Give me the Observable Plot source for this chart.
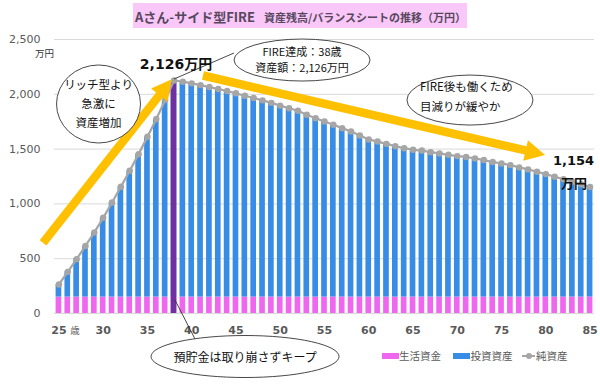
<!DOCTYPE html>
<html><head><meta charset="utf-8">
<script src="https://cdn.jsdelivr.net/npm/d3@7"></script>
<script src="https://cdn.jsdelivr.net/npm/@observablehq/plot@0.6"></script>
<style>
body{margin:0;background:#fff;}
#wrap{position:relative;width:600px;height:385px;overflow:hidden;font-family:"Noto Sans CJK JP",sans-serif;}
#title{position:absolute;left:133px;top:3px;width:334px;height:25px;background:#fac8f8;color:#56475e;font-weight:bold;line-height:25px;white-space:nowrap;}
#title .t1{font-size:13px;margin-left:2px;}
#title .t2{font-size:11px;margin-left:9px;}
#chart{position:absolute;left:0;top:30px;}
#legend{position:absolute;left:0;top:0;width:600px;height:385px;pointer-events:none;font-size:10.5px;color:#595959;}
#legend .sw{position:absolute;top:353px;width:16.5px;height:6px;}
#legend .lb{position:absolute;top:349px;line-height:14px;white-space:nowrap;}
g[aria-label^="x-axis"] text{font-weight:bold;}
</style></head>
<body><div id="wrap">
<div id="title"><span class="t1">Aさん-サイド型FIRE</span><span class="t2">資産残高/バランスシートの推移（万円）</span></div>
<div id="chart"></div>
<div id="legend">
  <div class="sw" style="left:382px;background:#ef67ef"></div><div class="lb" style="left:399px">生活資金</div>
  <div class="sw" style="left:453px;background:#378ce6"></div><div class="lb" style="left:470.5px">投資資産</div>
  <div style="position:absolute;left:522px;top:355px;width:13px;height:2px;background:#a6a6a6"></div>
  <div style="position:absolute;left:525.5px;top:353px;width:6px;height:6px;border-radius:3px;background:#a6a6a6"></div>
  <div class="lb" style="left:536px">純資産</div>
</div>
</div>
<script>
// ---- data ----
const ages = [25,26,27,28,29,30,31,32,33,34,35,36,37,38,39,40,41,42,43,44,45,46,47,48,49,50,51,52,53,54,55,56,57,58,59,60,61,62,63,64,65,66,67,68,69,70,71,72,73,74,75,76,77,78,79,80,81,82,83,84,85];
const netAssets = [265,380,496,617,740,873,1013,1156,1302,1454,1612,1774,1947,2126,2115,2100,2084,2066,2048,2030,2009,1987,1966,1945,1922,1897,1873,1850,1813,1782,1752,1722,1691,1661,1624,1588,1569,1548,1527,1508,1494,1487,1472,1460,1448,1436,1428,1415,1400,1382,1369,1354,1333,1315,1293,1272,1248,1226,1201,1180,1154];
const livingFunds = [150,150,150,150,150,150,150,150,150,150,150,150,150,150,150,150,150,150,150,150,150,150,150,150,150,150,150,150,150,150,150,150,150,150,150,150,150,150,150,150,150,150,150,150,150,150,150,150,150,150,150,150,150,150,150,150,150,150,150,150,150];
const fireAge = 38;
const xTicks = [25,30,35,40,45,50,55,60,65,70,75,80,85];
const yTicks = [0,500,1000,1500,2000,2500];

const rows = ages.map((age, i) => ({age, net: netAssets[i], living: livingFunds[i], invest: netAssets[i] - livingFunds[i]}));
const fireRow = rows.filter(d => d.age === fireAge);
const lastRow = rows.slice(-1);
const fmt = d3.format(",");

// annotation placements (data units)
const ellipses = [
  {cx: 29.53, cy: 1907, rx: 42, ry: 39, anchor: "middle", dx: 0, size: 11.5, lines: ["リッチ型より", "急激に", "資産増加"], offs: [-19, 0, 19]},
  {cx: 52.52, cy: 2308, rx: 68, ry: 21, anchor: "middle", dx: 0, size: 11, lines: [`FIRE達成：${fireAge}歳`, `資産額：${fmt(fireRow[0].net)}万円`], offs: [-8, 8.5]},
  {cx: 71.49, cy: 1943, rx: 63, ry: 25, anchor: "start", dx: -50, size: 11.5, lines: ["FIRE後も働くため", "目減りが緩やか"], offs: [-13, 7]},
  {cx: 46.08, cy: -397, rx: 94, ry: 21, anchor: "middle", dx: 0, size: 12, lines: ["預貯金は取り崩さずキープ"], offs: [1]}
];
const connectors = [
  {from: [44.83, 2372], to: [38.06, 2135]},
  {from: [38.17, 119], to: [40.54, -255]}
];
const arrows = [
  {from: [23.26, 639], to: [37.80, 2132]},
  {from: [41.33, 2167], to: [79.97, 1442]}
];

function annotations(index, scales) {
  const {x, y} = scales;
  const g = d3.create("svg:g").attr("aria-label", "annotations");
  for (const c of connectors) {
    g.append("line").attr("x1", x(c.from[0])).attr("y1", y(c.from[1])).attr("x2", x(c.to[0])).attr("y2", y(c.to[1]))
      .attr("stroke", "#333").attr("stroke-width", 0.9);
  }
  const headLen = 20, hw = 10.5;
  for (const a of arrows) {
    const x0 = x(a.from[0]), y0 = y(a.from[1]), x1 = x(a.to[0]), y1 = y(a.to[1]);
    const len = Math.hypot(x1 - x0, y1 - y0), ux = (x1 - x0) / len, uy = (y1 - y0) / len;
    const bx = x1 - ux * headLen, by = y1 - uy * headLen;
    g.append("line").attr("x1", x0).attr("y1", y0).attr("x2", bx + ux).attr("y2", by + uy)
      .attr("stroke", "#ffc000").attr("stroke-width", 8.5);
    g.append("path").attr("d", `M${x1},${y1}L${bx - uy * hw},${by + ux * hw}L${bx + uy * hw},${by - ux * hw}Z`)
      .attr("fill", "#ffc000");
  }
  for (const e of ellipses) {
    const cx = x(e.cx), cy = y(e.cy);
    g.append("ellipse").attr("cx", cx).attr("cy", cy).attr("rx", e.rx).attr("ry", e.ry)
      .attr("fill", "#fff").attr("stroke", "#333").attr("stroke-width", 0.9);
    e.lines.forEach((t, i) => {
      g.append("text").attr("x", cx + e.dx).attr("y", cy + e.offs[i]).attr("dy", "0.35em")
        .attr("text-anchor", e.anchor).attr("font-family", '"Noto Sans CJK JP", sans-serif')
        .attr("font-size", e.size).attr("fill", "#111").text(t);
    });
  }
  return g.node();
}

const hw = 0.32;
const chart = Plot.plot({
  width: 600,
  height: 355,
  marginTop: 9,
  marginBottom: 72,
  marginLeft: 54,
  marginRight: 6,
  style: {fontFamily: '"DejaVu Sans", "Noto Sans CJK JP", sans-serif', fontSize: "11px", color: "#595959", background: "transparent", overflow: "visible"},
  x: {type: "linear", domain: [24.5, 85.5], ticks: xTicks, tickFormat: d => String(d), tickSize: 0, tickPadding: 13, label: null},
  y: {domain: [0, 2500], ticks: yTicks, tickFormat: fmt, tickSize: 0, tickPadding: 14, label: null},
  marks: [
    Plot.ruleY(yTicks, {stroke: "#d9d9d9", strokeWidth: 1}),
    Plot.rectY(rows, {x1: d => d.age - hw, x2: d => d.age + hw, y1: 0, y2: "living", fill: "#ef67ef"}),
    Plot.rectY(rows, {x1: d => d.age - hw, x2: d => d.age + hw, y1: "living", y2: "net", fill: "#378ce6"}),
    Plot.rectY(fireRow, {x1: d => d.age - hw, x2: d => d.age + hw, y1: 0, y2: "net", fill: "#7030a0"}),
    Plot.line(rows, {x: "age", y: "net", stroke: "#a6a6a6", strokeWidth: 2.25}),
    Plot.dot(rows, {x: "age", y: "net", r: 3.2, fill: "#a6a6a6", stroke: "none"}),
    annotations,
    Plot.text(fireRow, {x: "age", y: "net", text: d => `${fmt(d.net)}万円`, dx: 2, dy: -16, fontSize: 14, fontWeight: "bold", fill: "#111"}),
    Plot.text(lastRow, {x: "age", y: "net", text: d => fmt(d.net), dx: -16.5, dy: -26.5, fontSize: 13, fontWeight: "bold", fill: "#111"}),
    Plot.text(lastRow, {x: "age", y: "net", text: () => "万円", dx: -16, dy: -3.5, fontSize: 13, fontWeight: "bold", fill: "#111"}),
    Plot.text(["万円"], {frameAnchor: "top-left", text: d => d, dx: -19.5, dy: 11, fontSize: 9.5, fill: "#333"}),
    Plot.text(["歳"], {x: () => ages[0], y: () => 0, text: d => d, dx: 16, dy: 17, fontSize: 9.5, fill: "#595959"})
  ]
});
document.getElementById("chart").appendChild(chart);
</script>
</body></html>
